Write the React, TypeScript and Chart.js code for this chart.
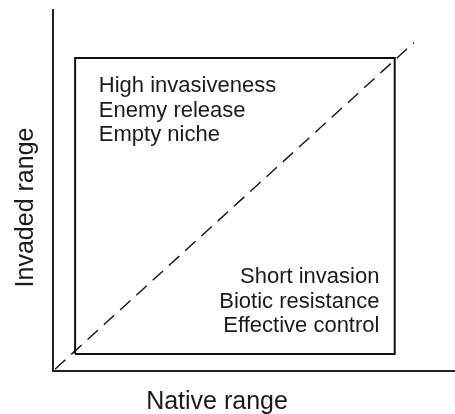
import React, { useEffect, useRef } from "react";
import { Chart, registerables } from "chart.js";

Chart.register(...registerables);

// ---- data ----
const xTitle = "Native range";
const yTitle = "Invaded range";
const topLeftNotes = ["High invasiveness", "Enemy release", "Empty niche"];
const bottomRightNotes = ["Short invasion", "Biotic resistance", "Effective control"];

// box corners (data units on 0..10 scales)
const boxX = [0.55, 0.55, 8.5, 8.5, 0.55];
const boxY = [0.47, 8.67, 8.67, 0.47, 0.47];
// 1:1 diagonal line
const diagX = [0.05, 8.98];
const diagY = [0.05, 9.1];
// anchors of notes (data units)
const topLeftAnchor = { x: 1.14, y: 7.73 };
const bottomRightAnchor = { x: 8.12, y: 2.43 };

const FONT = '"Liberation Sans", Arial, Helvetica, sans-serif';
const INK = "#1a1a1a";

const textPlugin = {
  id: "notes",
  afterDatasetsDraw(chart: any) {
    const { ctx, scales, chartArea } = chart;
    const xs = scales.x;
    const ys = scales.y;
    ctx.save();
    ctx.fillStyle = INK;
    ctx.font = `22px ${FONT}`;
    ctx.textBaseline = "alphabetic";
    const lh = 24.6;
    ctx.textAlign = "left";
    let px = xs.getPixelForValue(topLeftAnchor.x);
    let py = ys.getPixelForValue(topLeftAnchor.y);
    topLeftNotes.forEach((t, i) => ctx.fillText(t, px, py + i * lh));
    ctx.textAlign = "right";
    px = xs.getPixelForValue(bottomRightAnchor.x);
    py = ys.getPixelForValue(bottomRightAnchor.y);
    bottomRightNotes.forEach((t, i) => ctx.fillText(t, px, py + i * lh));

    // axis titles
    ctx.font = `25px ${FONT}`;
    ctx.textAlign = "center";
    ctx.fillText(xTitle, xs.getPixelForValue(4.08), chartArea.bottom + 38);
    ctx.save();
    ctx.translate(chartArea.left - 20, ys.getPixelForValue(4.53));
    ctx.rotate(-Math.PI / 2);
    ctx.fillText(yTitle, 0, 0);
    ctx.restore();
    ctx.restore();
  },
};

export default function App() {
  const ref = useRef<HTMLCanvasElement | null>(null);
  useEffect(() => {
    if (!ref.current) return;
    const chart = new Chart(ref.current, {
      type: "scatter",
      data: {
        datasets: [
          {
            data: boxX.map((x, i) => ({ x, y: boxY[i] })),
            showLine: true,
            borderColor: "#111111",
            borderWidth: 2,
            pointRadius: 0,
            fill: false,
            tension: 0,
            borderJoinStyle: "miter",
          },
          {
            data: diagX.map((x, i) => ({ x, y: diagY[i] })),
            showLine: true,
            borderColor: "#111111",
            borderWidth: 1.4,
            borderDash: [14, 8],
            pointRadius: 0,
            fill: false,
          },
        ],
      },
      options: {
        responsive: false,
        animation: false,
        events: [],
        layout: { padding: { top: 10, right: 0, left: 0, bottom: 0 } },
        plugins: { legend: { display: false }, tooltip: { enabled: false }, title: { display: false } },
        scales: {
          x: {
            type: "linear",
            min: 0,
            max: 10,
            grid: { display: false },
            ticks: { display: false },
            border: { display: true, color: "#222222", width: 2 },
            afterFit: (s: any) => {
              s.height = 43;
            },
          },
          y: {
            type: "linear",
            min: 0,
            max: 10,
            grid: { display: false },
            ticks: { display: false },
            border: { display: true, color: "#222222", width: 2 },
            afterFit: (s: any) => {
              s.width = 53;
            },
          },
        },
      },
      plugins: [textPlugin],
    });
    return () => chart.destroy();
  }, []);
  return (
    <div style={{ position: "fixed", left: 0, top: 0, width: 455, height: 414, background: "#fff" }}>
      <canvas ref={ref} width={455} height={414} style={{ width: 455, height: 414 }} />
    </div>
  );
}
